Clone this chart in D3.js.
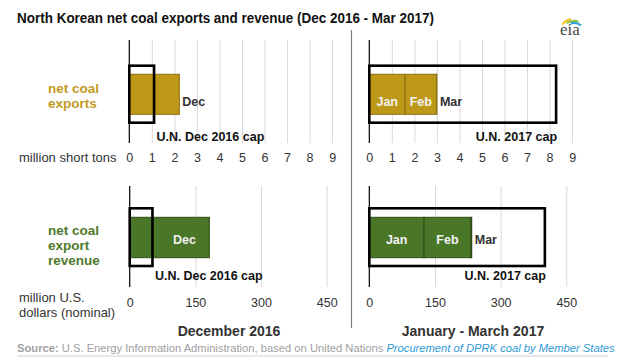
<!DOCTYPE html>
<html><head><meta charset="utf-8">
<script src="https://cdn.jsdelivr.net/npm/d3@7"></script>
<style>
body{margin:0;background:#fff;}
svg{font-family:"Liberation Sans",Arial,sans-serif;}
</style></head>
<body><svg id="c" width="623" height="359"></svg>
<script>
// ---- data ----
const monthsDec = ["Dec"];
const exportsDec = [2.22];          // million short tons
const revenueDec = [182];           // million US$
const capDecTons = 1.1;
const capDecRevenue = 52;
const months2017 = ["Jan", "Feb", "Mar"];
const exports2017 = [1.59, 1.39, 0.02];
const revenue2017 = [125, 107, 2];
const cap2017Tons = 8.29;
const cap2017Revenue = 401;
const tonTicks = [0,1,2,3,4,5,6,7,8,9];
const usdTicks = [0,150,300,450];

const gold = "#be9818", goldDark = "#8a6e12";
const green = "#4a7628", greenDark = "#2f4b19";

const svg = d3.select("#c");

// title
svg.append("text").attr("x",17).attr("y",23).attr("font-weight","bold").attr("font-size",14)
  .attr("fill","#111").text("North Korean net coal exports and revenue (Dec 2016 - Mar 2017)")
  .attr("textLength",417).attr("lengthAdjust","spacingAndGlyphs");

// eia logo
const logo = svg.append("g");
const arc = (r,col,a0,a1)=>logo.append("path").attr("transform","translate(574,34)")
  .attr("d",d3.arc()({innerRadius:r,outerRadius:r+2.2,startAngle:a0,endAngle:a1})).attr("fill",col);
arc(14,"#f5c330",-0.9,-0.2);
arc(12,"#8cc63f",-0.6,0.35);
arc(10,"#3aa0d8",-0.3,0.7);
logo.append("text").attr("x",570).attr("y",35).attr("text-anchor","middle")
  .attr("font-family","Liberation Serif,DejaVu Serif,serif").attr("font-size",17).attr("fill","#4a4a4a").text("eia");

// divider
svg.append("line").attr("x1",351.5).attr("x2",351.5).attr("y1",30).attr("y2",328)
  .attr("stroke","#7a7a7a").attr("stroke-width",1.2);

// panels
function panel(cfg){
  const x = d3.scaleLinear().domain(cfg.domain).range([cfg.x0, cfg.x0+cfg.w]);
  const yb = d3.scaleBand().domain(["bar"]).range([cfg.barTop, cfg.barBot]);
  const g = svg.append("g");
  // grid
  g.selectAll("line.grid").data(cfg.ticks.filter(d=>d>0)).enter().append("line")
    .attr("x1",d=>x(d)+0.5).attr("x2",d=>x(d)+0.5).attr("y1",cfg.axTop).attr("y2",cfg.axBot)
    .attr("stroke","#d9d9d9").attr("stroke-width",1);
  // stacked bars
  let cum = 0;
  const segs = cfg.values.map((v,i)=>{const s={k:cfg.labels[i],v,x0:cum,x1:cum+v}; cum+=v; return s;});
  g.selectAll("rect.seg").data(segs).enter().append("rect")
    .attr("x",d=>x(d.x0)).attr("width",d=>x(d.x1)-x(d.x0))
    .attr("y",yb("bar")).attr("height",yb.bandwidth())
    .attr("fill",cfg.color).attr("stroke",cfg.dark).attr("stroke-width",1);
  // segment labels
  segs.forEach((s,i)=>{
    const inside = cfg.inside[i];
    const t = g.append("text").attr("font-weight","bold").attr("font-size",12.5)
      .attr("y",yb("bar")+yb.bandwidth()/2+cfg.labelDy+4.5);
    if(inside){
      t.attr("x",(x(s.x0)+x(s.x1))/2+(cfg.labelShift||0)).attr("text-anchor","middle").attr("fill","#f2f2f2");
    } else {
      t.attr("x",x(s.x1)+3).attr("fill","#333");
    }
    t.text(s.k);
  });
  // cap box
  g.append("rect").attr("x",x(0)).attr("width",x(cfg.cap)-x(0))
    .attr("y",cfg.capTop).attr("height",cfg.capBot-cfg.capTop)
    .attr("fill","none").attr("stroke","#000").attr("stroke-width",2.6);
  // cap label
  const cl = g.append("text").attr("font-weight","bold").attr("font-size",12.5).attr("fill","#111")
    .attr("y",cfg.capLabelY).text(cfg.capLabel);
  if(cfg.capAnchorEnd) cl.attr("x",x(cfg.cap)+1).attr("text-anchor","end");
  else cl.attr("x",x(cfg.cap)+2.5);
  // axis line
  g.append("line").attr("x1",x(0)).attr("x2",x(0)).attr("y1",cfg.axTop).attr("y2",cfg.axBot)
    .attr("stroke","#000").attr("stroke-width",1.2);
  // tick labels
  const ax = g.append("g").attr("transform",`translate(0,${cfg.tickY})`)
    .call(d3.axisBottom(x).tickValues(cfg.ticks).tickSize(0).tickPadding(0).tickFormat(d3.format("d")));
  ax.select(".domain").remove();
  ax.selectAll("text").attr("font-family","Liberation Sans,Arial,sans-serif").attr("font-size",12.5).attr("fill","#333");
}

const topCfg = {domain:[0,9], ticks:tonTicks, w:202.8, axTop:40, axBot:143, barTop:74.3, barBot:114.3,
  capTop:65.7, capBot:122.7, capLabelY:141, tickY:153, labelDy:7, color:gold, dark:goldDark};
const botCfg = {domain:[0,450], ticks:usdTicks, w:197, axTop:186, axBot:287, barTop:217.3, barBot:257.7,
  capTop:208.3, capBot:266, capLabelY:280, tickY:298, labelDy:1.5, color:green, dark:greenDark};

panel(Object.assign({},topCfg,{x0:129.3, labels:monthsDec, values:exportsDec, inside:[false],
  cap:capDecTons, capLabel:"U.N. Dec 2016 cap"}));
panel(Object.assign({},topCfg,{x0:369.3, labels:months2017, values:exports2017, inside:[true,true,false],
  cap:cap2017Tons, capLabel:"U.N. 2017 cap", capAnchorEnd:true}));
panel(Object.assign({},botCfg,{x0:129.7, labels:monthsDec, values:revenueDec, inside:[true],
  cap:capDecRevenue, capLabel:"U.N. Dec 2016 cap", labelShift:15}));
panel(Object.assign({},botCfg,{x0:369.3, labels:months2017, values:revenue2017, inside:[true,true,false],
  cap:cap2017Revenue, capLabel:"U.N. 2017 cap", capAnchorEnd:true}));

// left labels
function lines(x,y0,lh,arr,attrs){
  const t = svg.append("text").attr("x",x).attr("y",y0);
  Object.entries(attrs).forEach(([k,v])=>t.attr(k,v));
  arr.forEach((s,i)=>t.append("tspan").attr("x",x).attr("y",y0+i*lh).text(s));
}
lines(48,92.5,15,["net coal","exports"],{"font-weight":"bold","font-size":13.5,fill:"#c29a1f"});
lines(48,235,15,["net coal","export","revenue"],{"font-weight":"bold","font-size":13.5,fill:"#4e7a2a"});
lines(19,161.5,0,["million short tons"],{"font-size":13,fill:"#333"});
lines(19,302,15,["million U.S.","dollars (nominal)"],{"font-size":13,fill:"#333"});

// column titles
svg.append("text").attr("x",229).attr("y",336).attr("text-anchor","middle").attr("font-weight","bold")
  .attr("font-size",14).attr("fill","#333").text("December 2016");
svg.append("text").attr("x",473).attr("y",336).attr("text-anchor","middle").attr("font-weight","bold")
  .attr("font-size",14).attr("fill","#333").text("January - March 2017");

// source
const src = svg.append("text").attr("x",17).attr("y",352).attr("font-size",11.2).attr("fill","#a0a0a0");
src.append("tspan").attr("font-weight","bold").text("Source:");
src.append("tspan").text(" U.S. Energy Information Administration, based on United Nations ");
src.append("tspan").attr("font-style","italic").attr("fill","#2f9ad6").text("Procurement of DPRK coal by Member States");
svg.append("line").attr("x1",17).attr("x2",608).attr("y1",356).attr("y2",356).attr("stroke","#d0d0d0").attr("stroke-width",1);
</script></body></html>
